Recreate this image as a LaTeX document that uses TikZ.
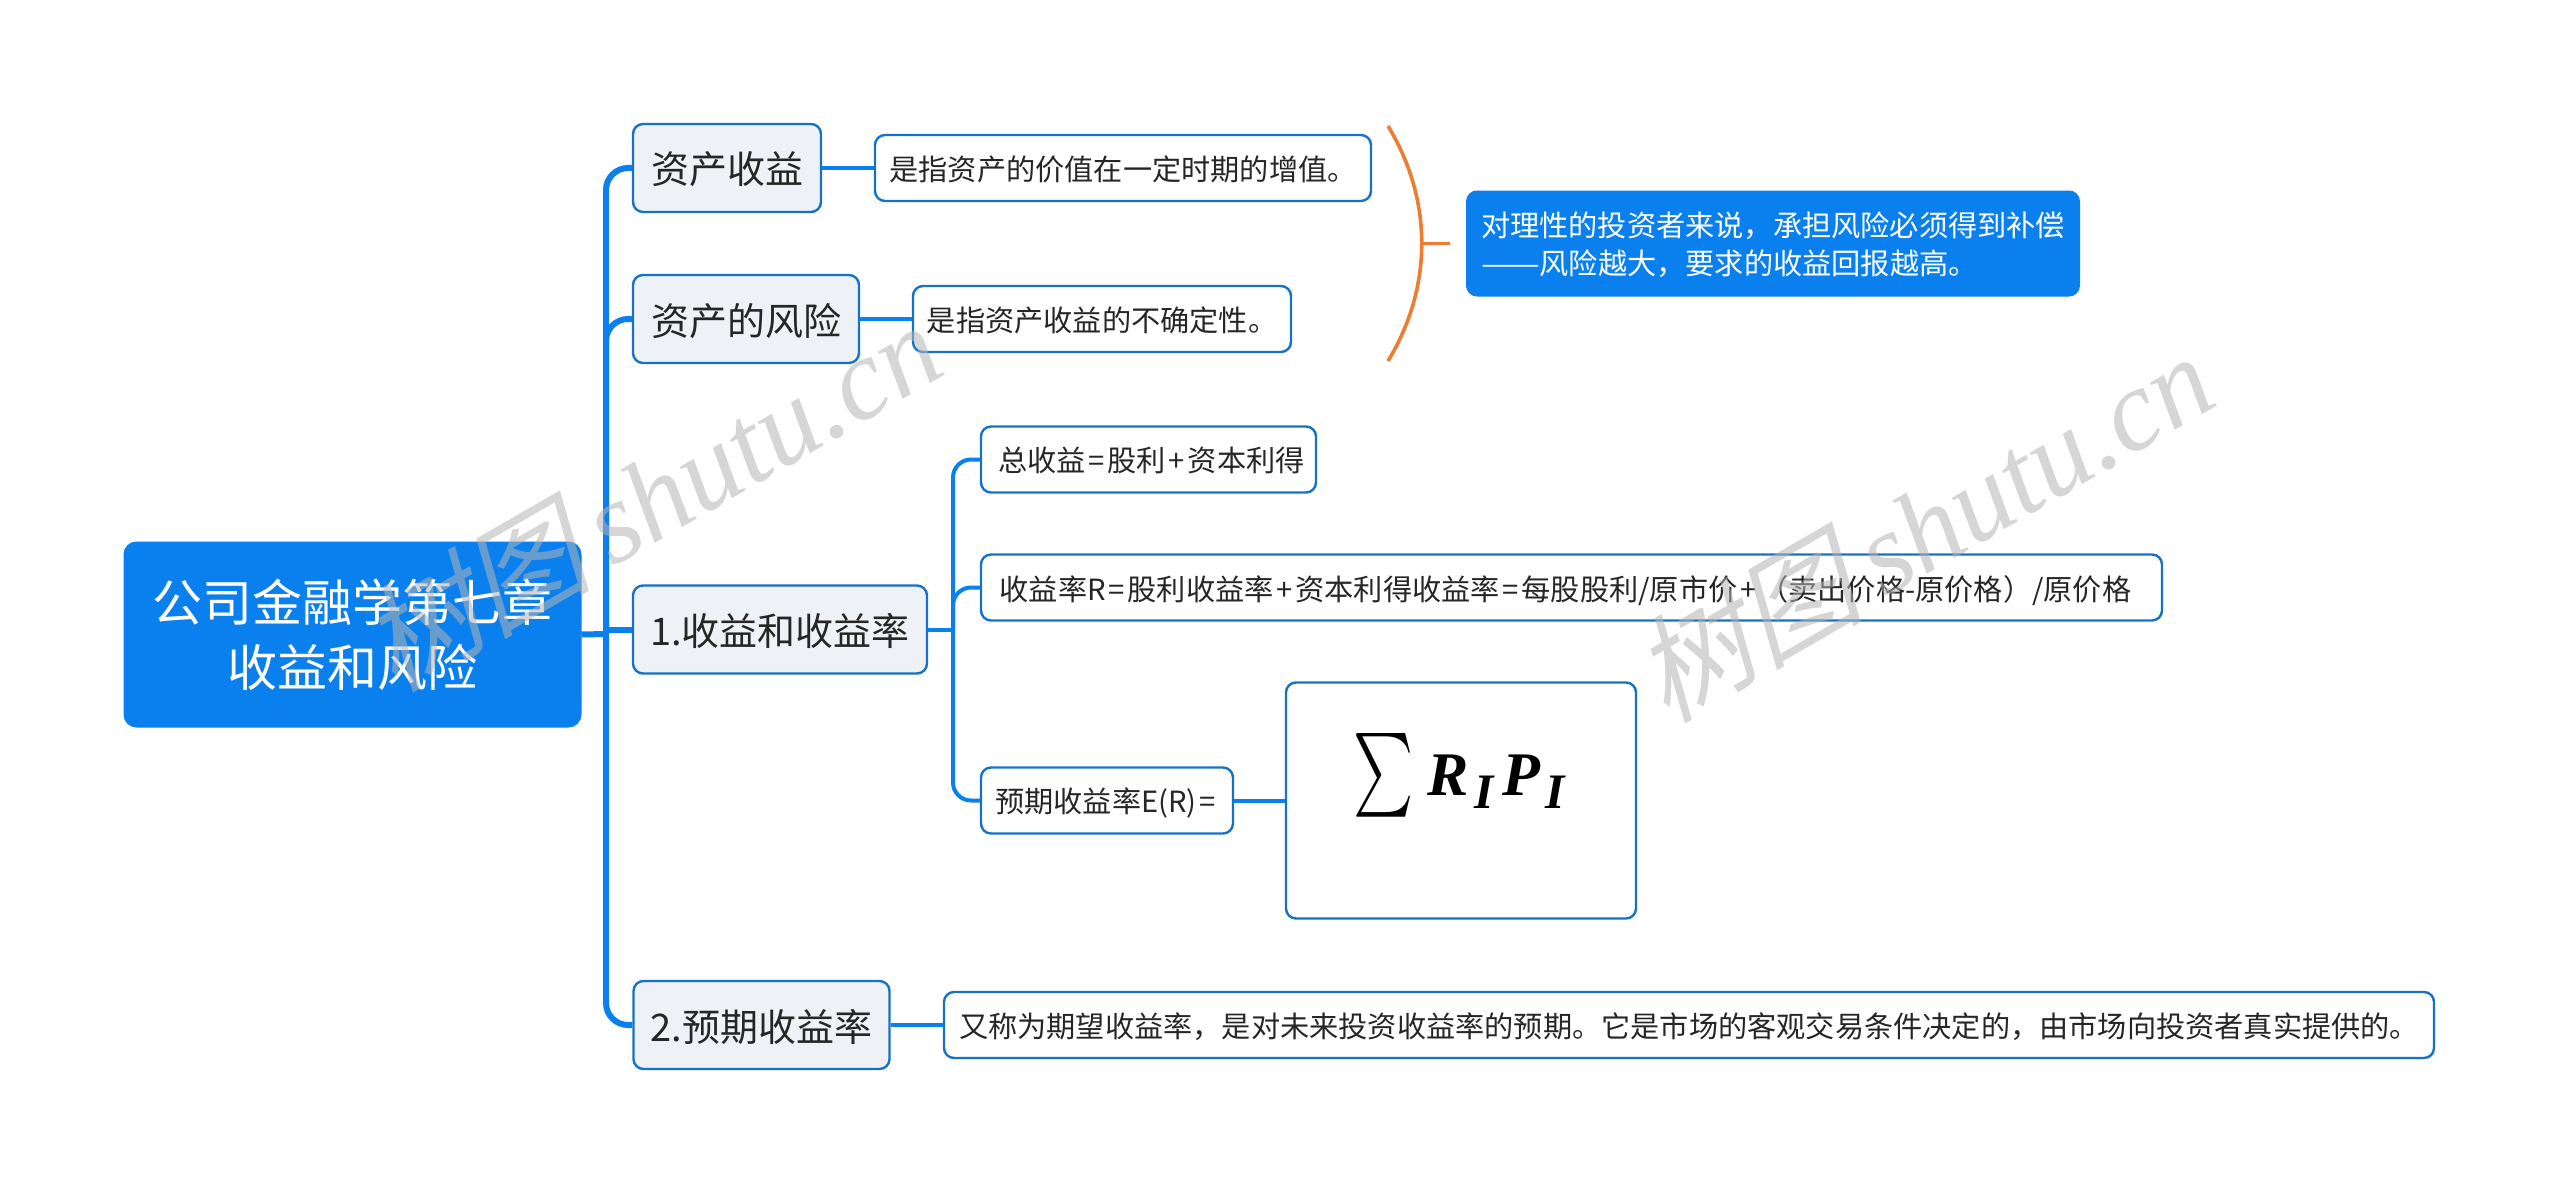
\documentclass[tikz,border=0pt]{standalone}
\usepackage{amsmath}
\usepackage{graphicx}
\usepackage{fontspec}
\setmainfont{Noto Sans CJK SC}
\newfontfamily\markcjk[FakeSlant=0.25]{Noto Sans CJK SC}
\newfontfamily\marklatin{Liberation Serif}
\usetikzlibrary{positioning,calc}
\definecolor{mapblue}{HTML}{0A80EE}
\definecolor{edgeblue}{HTML}{1572C6}
\definecolor{topicgrey}{HTML}{EEF2F6}
\definecolor{braceorange}{HTML}{ED7D31}
\definecolor{markgrey}{HTML}{B4B4B4}
\newcommand{\opsign}[1]{\kern1.4pt#1\kern1.4pt}

\begin{document}
\begin{tikzpicture}[x=0.5pt, y=-0.5pt]
  \tikzstyle{rootbox}=[rectangle, draw=mapblue, fill=mapblue, text=white, line width=1pt, minimum width=228pt, minimum height=92pt, inner sep=0pt, rounded corners=6pt, font=\fontsize{25}{32.6}\selectfont, align=center]
  \tikzstyle{topicbox}=[rectangle, draw=edgeblue, fill=topicgrey, text=black!85, line width=1.2pt, minimum height=44pt, inner sep=0pt, rounded corners=5pt, text depth=0pt, font=\fontsize{19}{22}\selectfont, align=center]
  \tikzstyle{leafbox}=[rectangle, draw=edgeblue, fill=white, text=black!85, line width=1.2pt, minimum height=33pt, inner sep=0pt, rounded corners=5pt, text depth=0pt, font=\fontsize{14.6}{19}\selectfont, align=center]
  \tikzstyle{notebox}=[rectangle, draw=mapblue, fill=mapblue, text=white, line width=1pt, minimum width=306pt, minimum height=52pt, inner sep=0pt, rounded corners=5pt, text depth=0pt, font=\fontsize{14.6}{19}\selectfont, align=left]
  \tikzstyle{trunk}=[draw=mapblue, line width=3pt, rounded corners=11pt]
  \tikzstyle{branch}=[draw=mapblue, line width=2pt, rounded corners=9pt]
  \tikzstyle{bracket}=[draw=braceorange, line width=1.8pt]
  \tikzstyle{watermark}=[text=markgrey, opacity=0.55, rotate=30, font=\fontsize{58}{58}\selectfont]
  \useasboundingbox (0,0) rectangle (2560,1193);

  % Branches of the map
  \coordinate (hub) at (606,634);
  \coordinate (subhub) at (953,629.5);

  % Main nodes
  \node[rootbox] (root) at (352.5,634.5) {公司金融学第七章\\收益和风险};
  \node[topicbox, minimum width=94pt] (gain) at (727,168) {资产收益};
  \node[topicbox, minimum width=113pt] (risk) at (746,319) {资产的风险};
  \node[topicbox, minimum width=147pt] (yield) at (780,629.5) {1.收益和收益率};
  \node[topicbox, minimum width=128pt] (expect) at (761.5,1025) {2.预期收益率};

  % Leaves
  \node[leafbox, minimum width=248pt] (gainleaf) at (1123,168) {是指资产的价值在一定时期的增值。};
  \node[leafbox, minimum width=189pt] (riskleaf) at (1102,319) {是指资产收益的不确定性。};
  \node[leafbox, minimum width=167.5pt] (total) at (1148.5,459.5) {\kern3pt总收益\opsign{=}股利\opsign{+}资本利得};
  \node[leafbox, minimum width=590.5pt] (rate) at (1571.5,587.5) {收益率R\opsign{=}股利收益率\opsign{+}资本利得收益率\opsign{=}每股股利/原市价\opsign{+}（卖出价格-原价格）/原价格\kern6pt};
  \node[leafbox, minimum width=126pt] (mean) at (1107,800.5) {预期收益率E(R)\opsign{=}};
  \node[leafbox, minimum width=175pt, minimum height=118pt] (picture) at (1461,800.5) {};
  \node[leafbox, minimum width=745pt] (expectleaf) at (1689,1025) {又称为期望收益率，是对未来投资收益率的预期。它是市场的客观交易条件决定的，由市场向投资者真实提供的。};
  \node[scale=3.1, text=black] (formula) at (1459,775) {\scalebox{0.92}[1.35]{$\sum$}\kern2.3pt{\marklatin\bfseries\itshape R\kern0.8pt\raisebox{-2pt}{\footnotesize I}\kern1.5pt P\kern0.8pt\raisebox{-2pt}{\footnotesize I}}};

  % Note on the bracket
  \node[notebox] (note) at (1773,243.5) {对理性的投资者来说，承担风险必须得到补偿\\\scalebox{1.2}[1]{——}风险越大，要求的收益回报越高。};
  \coordinate (bracetop) at (1388,126);
  \coordinate (bracebot) at (1388,361);
  \coordinate (bracemid) at (1422,243.5);
  \coordinate (braceend) at (1450,243.5);

  % Connections
  \draw[trunk] (root.east) -- (hub);
  \draw[trunk] (hub) |- (gain.west);
  \draw[trunk] (hub) |- (risk.west);
  \draw[trunk] (hub |- yield.west) -- (yield.west);
  \draw[trunk] (hub) |- (expect.west);
  \draw[branch] (gain.east) -- (gainleaf.west);
  \draw[branch] (risk.east) -- (riskleaf.west);
  \draw[branch] (expect.east) -- (expectleaf.west);
  \draw[branch] (yield.east) -- (subhub);
  \draw[branch] (subhub) |- (total.west);
  \draw[branch] (subhub) |- (rate.west);
  \draw[branch] (subhub) |- (mean.west);
  \draw[branch] (mean.east) -- (picture.west);
  \draw[bracket] (bracetop) .. controls (1433,200) and (1433,287) .. (bracebot);
  \draw[bracket] (bracemid) -- (braceend);

  % Watermark
  \node[watermark] (markleft) at (650,495) {{\markcjk 树图}\,{\marklatin\itshape shutu.cn}};
  \node[watermark] (markright) at (1922,526) {{\markcjk 树图}\,{\marklatin\itshape shutu.cn}};
\end{tikzpicture}
\end{document}
